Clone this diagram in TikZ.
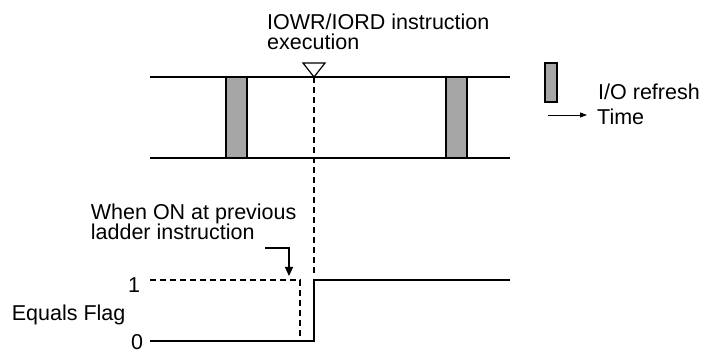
\documentclass[tikz,border=0pt]{standalone}
\usepackage{fontspec}
\setmainfont{Liberation Sans}
\usetikzlibrary{arrows.meta}

\tikzset{
  lbl/.style={font=\fontsize{21.5}{20.7}\selectfont, inner sep=0pt, align=left},
  heavy/.style={black, line width=2.4pt},
  dashline/.style={black, line width=1.3pt, dash pattern=on 6pt off 4pt}
}

\begin{document}
\begin{tikzpicture}[x=1pt, y=-1pt]
\useasboundingbox (0,0) rectangle (704,352);
% I/O refresh bars between the two cycle lines
  \fill[black!35] (226,77) rectangle (247,158);
  \fill[black!35] (446,77) rectangle (467,158);
  \draw[black, line width=1.8pt] (226,77) -- (226,158) (247,77) -- (247,158);
  \draw[black, line width=1.8pt] (446,77) -- (446,158) (467,77) -- (467,158);
  % Draw the two horizontal cycle lines
  \draw[heavy] (150,77) -- (510,77);
  \draw[heavy] (150,158) -- (510,158);
  % instruction execution marker
  \coordinate (exec) at (314,77);
  \draw[black, line width=1.2pt, fill=white] (303,63) -- (325,63) -- (exec) -- cycle;
  \node[lbl, anchor=base west] (title) at (267,50) {IOWR/IORD instruction\\execution};
  \coordinate (stepbot) at (314,341);
  \coordinate (steptop) at (314,280);
  \draw[dashline] (exec) -- (314,276);
 % Equals Flag signal
  \node[lbl, anchor=west] (flaglbl) at (11.7,315) {Equals Flag};
  \node[lbl] (one) at (134,285) {1};
  \node[lbl, anchor=base] (zero) at (137,350) {0};
  \draw[dashline] (150,280) -- (300,280) -- (300,341);
  \draw[heavy] (150,341) -- (stepbot) -- (steptop) -- (510,280);
  \node[lbl, anchor=base west] (whenon) at (90.7,240) {When ON at previous\\ladder instruction};
  \coordinate (prevtip) at (289,276);
  \draw[black, line width=1.2pt, -{Triangle[length=9pt, width=8pt]}] (265,248) -- (289,248) -- (prevtip);
 % legend
  \draw[fill=black!35, draw=black, line width=1.2pt] (545,63) rectangle (557,102);
  \node[lbl, anchor=west] (refreshlbl) at (598,92) {I/O refresh};
  \coordinate (timestart) at (548,115);
  \draw[black, line width=0.9pt, -{Triangle[length=7pt, width=5pt]}] (timestart) -- (587,115);
  \node[lbl, anchor=west] (timelbl) at (597,117) {Time};
\end{tikzpicture}
\end{document}
